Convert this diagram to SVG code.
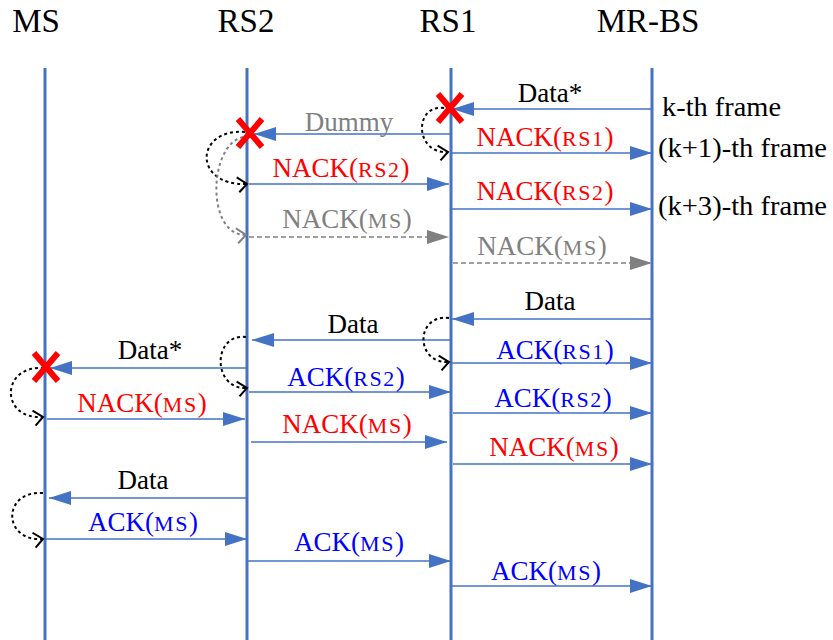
<svg xmlns="http://www.w3.org/2000/svg" width="833" height="640" viewBox="0 0 833 640" font-family="Liberation Serif">
<style>
.hdr{font-size:33px;fill:#000;text-anchor:middle;}
.lbl{font-size:27px;text-anchor:middle;}
.frm{font-size:27px;fill:#000;}
.s{font-size:22px;letter-spacing:1.5px;}
.red{fill:#FF0000;}
.blue{fill:#0000FF;}
.gray{fill:#808080;}
.blk{fill:#000;}
.life{stroke:#4472C4;stroke-width:3;fill:none;}
.msg{stroke:#4472C4;stroke-width:1.6;fill:none;marker-end:url(#ah);}
.gmsg{stroke:#808080;stroke-width:1.5;stroke-dasharray:5 3;fill:none;marker-end:url(#gah);}
.loop{stroke:#000;stroke-width:2;stroke-dasharray:3 3;fill:none;marker-end:url(#chev);}
.gloop{stroke:#808080;stroke-width:2;stroke-dasharray:3 3;fill:none;marker-end:url(#gchev);}
.x{stroke:#FF0000;stroke-width:6;stroke-linecap:butt;}
</style>
<defs>
<marker id="ah" markerUnits="userSpaceOnUse" markerWidth="24" markerHeight="16" refX="22" refY="7" orient="auto"><path d="M0,0 L22,7 L0,14 z" fill="#4472C4"/></marker>
<marker id="gah" markerUnits="userSpaceOnUse" markerWidth="24" markerHeight="16" refX="22" refY="7" orient="auto"><path d="M0,0 L22,7 L0,14 z" fill="#808080"/></marker>
<marker id="chev" markerUnits="userSpaceOnUse" markerWidth="14" markerHeight="16" refX="11" refY="8" orient="auto" overflow="visible"><path d="M1,1 L11,8 L3,16" fill="none" stroke="#000" stroke-width="2"/></marker>
<marker id="gchev" markerUnits="userSpaceOnUse" markerWidth="14" markerHeight="16" refX="11" refY="8" orient="auto" overflow="visible"><path d="M1,1 L11,8 L3,16" fill="none" stroke="#808080" stroke-width="2"/></marker>
</defs>
<rect width="833" height="640" fill="#fff"/>

<g id="MS"><text class="hdr" x="36" y="32">MS</text><line class="life" x1="45" y1="68" x2="45" y2="640"/></g>
<g id="RS2"><text class="hdr" x="246" y="32">RS2</text><line class="life" x1="247" y1="68" x2="247" y2="640"/></g>
<g id="RS1"><text class="hdr" x="448" y="32">RS1</text><line class="life" x1="451" y1="68" x2="451" y2="640"/></g>
<g id="MR-BS"><text class="hdr" x="648" y="32">MR-BS</text><line class="life" x1="652" y1="68" x2="652" y2="640"/></g>

<g id="frames">
<text class="frm" x="662" y="116" textLength="119" lengthAdjust="spacingAndGlyphs">k-th frame</text>
<text class="frm" x="658" y="157" textLength="169" lengthAdjust="spacingAndGlyphs">(k+1)-th frame</text>
<text class="frm" x="658" y="215" textLength="169" lengthAdjust="spacingAndGlyphs">(k+3)-th frame</text>
</g>

<g id="connectors">
<line class="msg" x1="652" y1="109" x2="452" y2="109"/>
<line class="msg" x1="451" y1="134" x2="254" y2="134"/>
<line class="msg" x1="451" y1="153" x2="652" y2="153"/>
<line class="msg" x1="249" y1="184" x2="449" y2="184"/>
<line class="msg" x1="451" y1="209" x2="652" y2="209"/>
<line class="gmsg" x1="249" y1="237" x2="449" y2="237"/>
<line class="gmsg" x1="453" y1="263" x2="652" y2="263"/>
<line class="msg" x1="652" y1="319" x2="452" y2="319"/>
<line class="msg" x1="451" y1="340" x2="252" y2="340"/>
<line class="msg" x1="247" y1="368" x2="50" y2="368"/>
<line class="msg" x1="451" y1="363" x2="652" y2="363"/>
<line class="msg" x1="249" y1="392" x2="451" y2="392"/>
<line class="msg" x1="453" y1="413" x2="652" y2="413"/>
<line class="msg" x1="47" y1="419" x2="245" y2="419"/>
<line class="msg" x1="251" y1="442" x2="447" y2="442"/>
<line class="msg" x1="453" y1="464" x2="652" y2="464"/>
<line class="msg" x1="247" y1="498" x2="49" y2="498"/>
<line class="msg" x1="45" y1="539" x2="247" y2="539"/>
<line class="msg" x1="247" y1="561" x2="451" y2="561"/>
<line class="msg" x1="451" y1="586" x2="652" y2="586"/>

<path class="loop" d="M444,108 C414,104 414,154 448,152"/>
<path class="loop" d="M245,132 C195,128 192,186 247,184"/>
<path class="gloop" d="M243,137 C208,145 206,236 246,235"/>
<path class="loop" d="M449,318 C415,314 415,364 449,362"/>
<path class="loop" d="M246,337 C212,333 212,390 247,388"/>
<path class="loop" d="M44,368 C0,365 0,420 43,417"/>
<path class="loop" d="M43,493 C2,490 2,542 43,539"/>
</g>

<g id="crosses">
<path class="x" d="M438,94 L462,122 M462,94 L438,122"/>
<path class="x" d="M238,119 L262,147 M262,119 L238,147"/>
<path class="x" d="M34,353 L58,381 M58,353 L34,381"/>
</g>

<g id="labels">
<text class="lbl blk" x="550" y="102">Data*</text>
<text class="lbl gray" x="349" y="131">Dummy</text>
<text class="lbl red" x="545" y="146">NACK(<tspan class="s">RS1</tspan>)</text>
<text class="lbl red" x="341" y="177">NACK(<tspan class="s">RS2</tspan>)</text>
<text class="lbl red" x="545" y="200">NACK(<tspan class="s">RS2</tspan>)</text>
<text class="lbl gray" x="347" y="228">NACK(<tspan class="s">MS</tspan>)</text>
<text class="lbl gray" x="542" y="255">NACK(<tspan class="s">MS</tspan>)</text>
<text class="lbl blk" x="550" y="310">Data</text>
<text class="lbl blk" x="353" y="333">Data</text>
<text class="lbl blk" x="150" y="359">Data*</text>
<text class="lbl blue" x="555" y="359">ACK(<tspan class="s">RS1</tspan>)</text>
<text class="lbl blue" x="346" y="386">ACK(<tspan class="s">RS2</tspan>)</text>
<text class="lbl blue" x="553" y="407">ACK(<tspan class="s">RS2</tspan>)</text>
<text class="lbl red" x="142" y="412">NACK(<tspan class="s">MS</tspan>)</text>
<text class="lbl red" x="347" y="433">NACK(<tspan class="s">MS</tspan>)</text>
<text class="lbl red" x="554" y="456">NACK(<tspan class="s">MS</tspan>)</text>
<text class="lbl blk" x="143" y="489">Data</text>
<text class="lbl blue" x="143" y="531">ACK(<tspan class="s">MS</tspan>)</text>
<text class="lbl blue" x="349" y="551">ACK(<tspan class="s">MS</tspan>)</text>
<text class="lbl blue" x="546" y="580">ACK(<tspan class="s">MS</tspan>)</text>
</g>
</svg>
